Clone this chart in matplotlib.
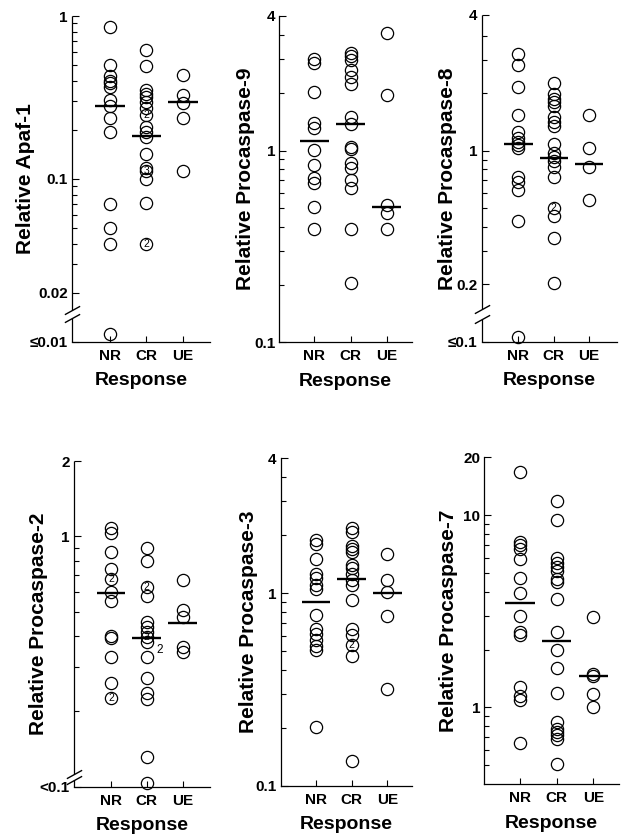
import matplotlib
matplotlib.use("Agg")
import matplotlib.pyplot as plt
from matplotlib.path import Path
from matplotlib.ticker import FixedLocator, NullFormatter

plt.rcParams['font.family'] = ['Liberation Sans', 'DejaVu Sans']

groups = ["NR", "CR", "UE"]

# Apaf-1
apaf1_nr = [0.86, 0.50, 0.43, 0.40, 0.386, 0.365, 0.305, 0.28, 0.235, 0.195, 0.070, 0.050, 0.040, 0.0112]
apaf1_cr = [0.62, 0.49, 0.35, 0.33, 0.316, 0.298, 0.271, 0.247, 0.209, 0.195, 0.18, 0.143, 0.116, 0.111, 0.10, 0.071, 0.040]
apaf1_ue = [0.434, 0.327, 0.291, 0.235, 0.111]
apaf1_median = [0.28, 0.183, 0.295]
apaf1_counts = [("CR", 0.247, "2"), ("CR", 0.111, "3"), ("CR", 0.040, "2")]

# Procaspase-9
casp9_nr = [3.01, 2.88, 2.03, 1.40, 1.31, 1.01, 0.842, 0.717, 0.68, 0.51, 0.389]
casp9_cr = [3.25, 3.12, 2.97, 2.64, 2.41, 2.23, 1.49, 1.38, 1.05, 1.02, 0.86, 0.81, 0.70, 0.64, 0.389, 0.203]
casp9_ue = [4.10, 1.95, 0.52, 0.47, 0.389]
casp9_median = [1.12, 1.38, 0.51]
casp9_counts = []

# Procaspase-8
casp8_nr = [3.21, 2.81, 2.15, 1.54, 1.26, 1.17, 1.11, 1.07, 1.04, 0.73, 0.69, 0.62, 0.43, 0.106]
casp8_cr = [2.26, 1.98, 1.88, 1.81, 1.72, 1.51, 1.42, 1.35, 1.09, 0.97, 0.93, 0.89, 0.82, 0.73, 0.50, 0.455, 0.35, 0.203]
casp8_ue = [1.54, 1.03, 0.82, 0.556]
casp8_median = [1.09, 0.92, 0.85]
casp8_counts = [("CR", 0.50, "2")]

# Procaspase-2
casp2_nr = [1.08, 1.03, 0.87, 0.74, 0.675, 0.60, 0.553, 0.401, 0.393, 0.331, 0.259, 0.226]
casp2_cr = [0.90, 0.80, 0.63, 0.58, 0.453, 0.433, 0.414, 0.395, 0.377, 0.331, 0.273, 0.236, 0.225, 0.132, 0.103]
casp2_ue = [0.67, 0.508, 0.478, 0.36, 0.344]
casp2_median = [0.592, 0.393, 0.45]
casp2_counts = [("NR", 0.675, "2"), ("NR", 0.226, "2"), ("CR", 0.63, "2"), ("CR", 0.395, "2")]
casp2_side_counts = [("CR", 0.395, "2")]

# Procaspase-3
casp3_nr = [1.88, 1.80, 1.50, 1.26, 1.20, 1.10, 1.05, 0.77, 0.65, 0.615, 0.573, 0.533, 0.504, 0.203]
casp3_cr = [2.18, 2.09, 1.75, 1.69, 1.63, 1.40, 1.35, 1.26, 1.17, 1.10, 0.92, 0.65, 0.61, 0.54, 0.469, 0.135]
casp3_ue = [1.59, 1.17, 1.01, 0.763, 0.318]
casp3_median = [0.90, 1.19, 1.00]
casp3_counts = [("CR", 0.54, "2")]

# Procaspase-7
casp7_nr = [16.8, 7.23, 7.0, 6.67, 5.92, 4.71, 3.96, 3.0, 2.48, 2.39, 1.28, 1.15, 1.09, 0.654]
casp7_cr = [11.9, 9.42, 5.99, 5.64, 5.37, 5.11, 4.66, 4.52, 3.66, 2.48, 1.99, 1.60, 1.19, 0.842, 0.777, 0.747, 0.717, 0.689, 0.51]
casp7_ue = [2.97, 1.49, 1.45, 1.18, 1.01]
casp7_median = [3.49, 2.23, 1.46]
casp7_counts = []

W, H = 623, 835
fig = plt.figure(figsize=(W / 100, H / 100), dpi=100)

# slash marker for the axis breaks
slash = Path([(-1.0, -0.55), (1.0, 0.55)], [Path.MOVETO, Path.LINETO])


def make_axes(left, right, top, bottom):
    return fig.add_axes([left / W, 1 - bottom / H, (right - left) / W, (bottom - top) / H])


panels = [
    dict(rect=(72, 210, 16, 341.7), xlim=(-0.04, 3.74), ylim=(0.01, 1.0),
         data=(apaf1_nr, apaf1_cr, apaf1_ue), med=apaf1_median, counts=apaf1_counts,
         ylabel="Relative Apaf-1", ylabel_px=-37,
         major=[0.01, 0.02, 0.1, 1.0], labels=["\u22640.01", "0.02", "0.1", "1"],
         minor=[0.03, 0.04, 0.05, 0.06, 0.07, 0.08, 0.09, 0.2, 0.3, 0.4, 0.5, 0.6, 0.7, 0.8, 0.9],
         brk=(0.0140, 0.0156)),
    dict(rect=(279.3, 411.7, 15.7, 342.3), xlim=(0.03, 3.69), ylim=(0.1, 5.06),
         data=(casp9_nr, casp9_cr, casp9_ue), med=casp9_median, counts=casp9_counts,
         ylabel="Relative Procaspase-9", ylabel_px=-24,
         major=[0.1, 1.0, 5.06], labels=["0.1", "1", "4"],
         minor=[0.2, 0.3, 0.4, 0.5, 0.6, 0.7, 0.8, 0.9, 2, 3, 4], brk=None),
    dict(rect=(481.7, 616.7, 15, 341.7), xlim=(-0.04, 3.78), ylim=(0.1, 5.15),
         data=(casp8_nr, casp8_cr, casp8_ue), med=casp8_median, counts=casp8_counts,
         ylabel="Relative Procaspase-8", ylabel_px=-25,
         major=[0.1, 0.2, 1.0, 5.15], labels=["\u22640.1", "0.2", "1", "4"],
         minor=[0.3, 0.4, 0.5, 0.6, 0.7, 0.8, 0.9, 2, 3, 4],
         brk=(0.132, 0.149)),
    dict(rect=(74, 210, 461, 786.7), xlim=(-0.03, 3.76), ylim=(0.1, 2.0),
         data=(casp2_nr, casp2_cr, casp2_ue), med=casp2_median, counts=casp2_counts,
         ylabel="Relative Procaspase-2", ylabel_px=-26,
         major=[0.1, 1.0, 2.0], labels=["<0.1", "1", "2"],
         minor=[0.2, 0.3, 0.4, 0.5, 0.6, 0.7, 0.8, 0.9],
         brk=(0.1066, 0.1127)),
    dict(rect=(280.7, 411.7, 458.3, 785.7), xlim=(0.01, 3.68), ylim=(0.1, 5.02),
         data=(casp3_nr, casp3_cr, casp3_ue), med=casp3_median, counts=casp3_counts,
         ylabel="Relative Procaspase-3", ylabel_px=-23,
         major=[0.1, 1.0, 5.02], labels=["0.1", "1", "4"],
         minor=[0.2, 0.3, 0.4, 0.5, 0.6, 0.7, 0.8, 0.9, 2, 3, 4], brk=None),
    dict(rect=(484.3, 619, 457.3, 784), xlim=(0.03, 3.70), ylim=(0.4, 20.0),
         data=(casp7_nr, casp7_cr, casp7_ue), med=casp7_median, counts=casp7_counts,
         ylabel="Relative Procaspase-7", ylabel_px=-26,
         major=[1.0, 10.0, 20.0], labels=["1", "10", "20"],
         minor=[0.5, 0.6, 0.7, 0.8, 0.9, 2, 3, 4, 5, 6, 7, 8, 9], brk=None),
]

positions = {g: i + 1 for i, g in enumerate(groups)}

for idx, p in enumerate(panels):
    ax = make_axes(*p["rect"])
    ax.set_yscale("log")
    ax.set_xlim(*p["xlim"])
    ax.set_ylim(*p["ylim"])

    for g, vals in zip(groups, p["data"]):
        ax.plot([positions[g]] * len(vals), vals, linestyle="none", marker="o",
                markersize=8.8, markerfacecolor="none", markeredgecolor="black",
                markeredgewidth=0.9, clip_on=False, zorder=2)
    for g, m in zip(groups, p["med"]):
        ax.hlines(m, positions[g] - 0.4, positions[g] + 0.4, color="black",
                  linewidth=1.7, zorder=3)
    for g, v, txt in p["counts"]:
        ax.text(positions[g], v, txt, ha="center", va="center", fontsize=7.5,
                zorder=4)
    if idx == 3:
        for g, v, txt in casp2_side_counts:
            ax.annotate(txt, (positions[g], v), xytext=(9, -9), textcoords="offset points",
                        ha="center", va="center", fontsize=8.5)

    for s in ("top", "right"):
        ax.spines[s].set_visible(False)
    ax.spines["bottom"].set_linewidth(0.9)
    ax.spines["left"].set_linewidth(0.9)

    ax.set_xticks([1, 2, 3])
    ax.set_xticklabels(groups, fontsize=11, fontweight="bold")
    ax.tick_params(axis="x", direction="in", length=4, width=0.8, pad=5)

    ax.yaxis.set_major_locator(FixedLocator(p["major"]))
    ax.set_yticklabels(p["labels"], fontsize=11, fontweight="bold")
    ax.yaxis.set_minor_locator(FixedLocator(p["minor"]))
    ax.yaxis.set_minor_formatter(NullFormatter())
    ax.tick_params(axis="y", which="major", direction="in", length=5, width=0.8, pad=3)
    ax.tick_params(axis="y", which="minor", direction="in", length=3.5, width=0.8)

    ax.set_xlabel("Response", fontsize=14, fontweight="bold", labelpad=7)
    ax.set_ylabel(p["ylabel"], fontsize=15, fontweight="bold")
    width_px = p["rect"][1] - p["rect"][0]
    ax.yaxis.set_label_coords(p["ylabel_px"] / width_px, 0.5)

    if p["brk"] is not None:
        lo, hi = p["brk"]
        ax.spines["left"].set_visible(False)
        yt = ax.get_yaxis_transform()
        ax.plot([0, 0], [p["ylim"][0], lo], color="black", lw=0.9, transform=yt,
                clip_on=False, solid_capstyle="butt")
        ax.plot([0, 0], [hi, p["ylim"][1]], color="black", lw=0.9, transform=yt,
                clip_on=False, solid_capstyle="butt")
        ax.plot([0, 0], [lo, hi], linestyle="none", marker=slash, markersize=11,
                markeredgewidth=1.0, color="black", transform=yt, clip_on=False)

fig.savefig("out.png", dpi=100)
